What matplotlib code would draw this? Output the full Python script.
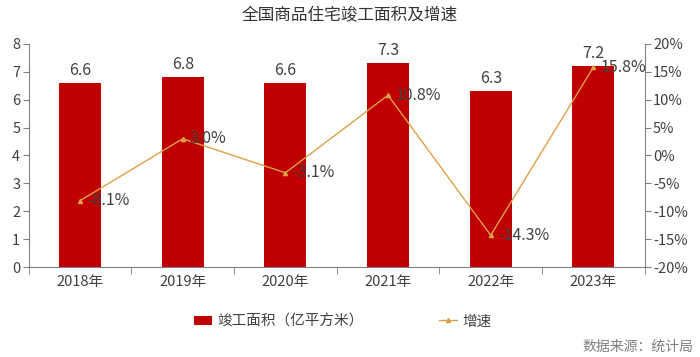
import matplotlib
matplotlib.use("Agg")
import matplotlib.pyplot as plt
import numpy as np

plt.rcParams['font.family'] = ['Noto Sans CJK SC', 'DejaVu Sans']

years = ["2018年", "2019年", "2020年", "2021年", "2022年", "2023年"]
area = [6.6, 6.8, 6.6, 7.3, 6.3, 7.2]
growth = [-8.1, 3.0, -3.1, 10.8, -14.3, 15.8]

bar_color = "#C00000"
line_color = "#DDA045"
text_color = "#404040"
axis_color = "#808080"

fig = plt.figure(figsize=(7, 3.57), dpi=100)
ax = fig.add_axes([0.041, 0.252, 0.880, 0.625])
ax2 = ax.twinx()

x = np.arange(len(years))
bars = ax.bar(x, area, width=0.41, color=bar_color, label="竣工面积（亿平方米）", zorder=2)
ax.set_xlim(-0.5, len(years) - 0.5)
ax.set_ylim(0, 8)
ax.set_yticks(range(0, 9))
for xi, v in zip(x, area):
    ax.text(xi, v + 0.15, f"{v:.1f}", ha="center", va="bottom", fontsize=11.5, color=text_color)

ax2.plot(x, growth, color=line_color, lw=1, marker="^", ms=3, label="增速", zorder=3)
ax2.set_ylim(-20, 20)
ax2.set_yticks(range(-20, 21, 5))
ax2.set_yticklabels([f"{v}%" for v in range(-20, 21, 5)])
for xi, v in zip(x, growth):
    ax2.text(xi + 0.07, v, f"{v:.1f}%", ha="left", va="center", fontsize=11.5, color=text_color)

# x ticks
ax.set_xticks(x)
ax.set_xticklabels(years)
ax.set_xticks(np.arange(-0.5, len(years), 1), minor=True)
ax.tick_params(axis="x", which="major", length=0, pad=6, labelsize=10.5, colors=text_color)
ax.tick_params(axis="x", which="minor", length=5, color=axis_color)
ax.tick_params(axis="y", length=4, color=axis_color, labelsize=10.5, labelcolor=text_color, pad=2)
ax2.tick_params(axis="y", length=4, color=axis_color, labelsize=10.5, labelcolor=text_color, pad=2)

for a in (ax, ax2):
    a.spines["top"].set_visible(False)
    for s in ("left", "right", "bottom"):
        a.spines[s].set_color(axis_color)
ax.spines["right"].set_visible(False)
ax2.spines["left"].set_visible(False)
ax2.spines["bottom"].set_visible(False)

fig.text(0.5, 0.955, "全国商品住宅竣工面积及增速", ha="center", va="center", fontsize=12,
         color="#333333", fontweight="medium")

h1, l1 = ax.get_legend_handles_labels()
h2, l2 = ax2.get_legend_handles_labels()
fig.legend(h1 + h2, l1 + l2, loc="center", bbox_to_anchor=(0.49, 0.10), ncol=2, frameon=False,
           fontsize=10.5, handlelength=1.2, handleheight=0.6, handletextpad=0.4,
           columnspacing=5.2, labelcolor=text_color)

fig.text(0.99, 0.03, "数据来源：统计局", ha="right", va="center", fontsize=10, color="#808080")

fig.savefig("out.png", dpi=100)
